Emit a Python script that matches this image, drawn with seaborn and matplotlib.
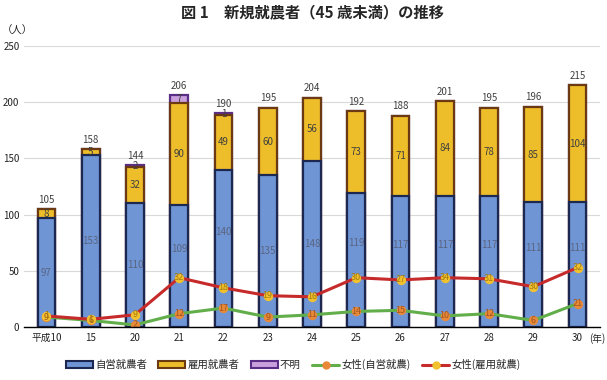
"""図1 新規就農者（45歳未満）の推移: stacked bars with female lines."""

import matplotlib
matplotlib.use("Agg")
import matplotlib.pyplot as plt
import numpy as np
import seaborn as sns
from matplotlib.lines import Line2D
from matplotlib.patches import Patch

years = ["平成10", "15", "20", "21", "22", "23", "24", "25", "26", "27", "28", "29", "30"]
self_employed = [97, 153, 110, 109, 140, 135, 148, 119, 117, 117, 117, 111, 111]
employed = [8, 5, 32, 90, 49, 60, 56, 73, 71, 84, 78, 85, 104]
unknown = [0, 0, 2, 7, 1, 0, 0, 0, 0, 0, 0, 0, 0]
female_self = [9, 6, 2, 12, 17, 9, 11, 14, 15, 10, 12, 6, 21]
female_employed = [1, 1, 9, 32, 18, 19, 16, 30, 27, 34, 31, 30, 32]

BLUE, BLUE_EDGE = "#6F95D5", "#1C2850"
YELLOW, YELLOW_EDGE = "#EDBE2A", "#6B3A12"
PURPLE, PURPLE_EDGE = "#C9A0DC", "#5A2D86"
GREEN, ORANGE = "#62AE4A", "#E8893A"
RED, GOLD = "#C62A2A", "#F2C12E"

sns.set_style("white")
plt.rcParams["font.family"] = ["Noto Sans CJK JP", "DejaVu Sans"]

fig = plt.figure(figsize=(6.07, 3.8), dpi=100)
ax = fig.add_axes([0.040, 0.139, 0.948, 0.740])

s = np.array(self_employed)
e = np.array(employed)
u = np.array(unknown)
top_emp = s + e
total = s + e + u

# draw back to front so each layer shows as a stacked segment
sns.barplot(x=years, y=total, order=years, color=PURPLE, edgecolor=PURPLE_EDGE,
            linewidth=1.6, width=0.4, saturation=1, ax=ax)
sns.barplot(x=years, y=top_emp, order=years, color=YELLOW, edgecolor=YELLOW_EDGE,
            linewidth=1.6, width=0.4, saturation=1, ax=ax)
sns.barplot(x=years, y=s, order=years, color=BLUE, edgecolor=BLUE_EDGE,
            linewidth=1.6, width=0.4, saturation=1, ax=ax)

pos = np.arange(len(years))
red_line = np.array(female_self) + np.array(female_employed)
sns.lineplot(x=pos, y=female_self, color=GREEN, lw=2.2, marker="o", ms=6,
             markerfacecolor=ORANGE, markeredgecolor=ORANGE, ax=ax)
sns.lineplot(x=pos, y=red_line, color=RED, lw=2.2, marker="o", ms=6,
             markerfacecolor=GOLD, markeredgecolor=GOLD, ax=ax)

for i in range(len(years)):
    # lift the blue label where the red line runs through the middle of the bar
    blue_y = s[i] / 2 + (15 if red_line[i] > 30 else 0)
    ax.text(i, blue_y, str(s[i]), ha="center", va="center", fontsize=7, color="#5A6480")
    ax.text(i, s[i] + e[i] / 2, str(e[i]), ha="center", va="center", fontsize=7, color="#404040")
    if u[i]:
        ax.text(i, top_emp[i] + u[i] / 2, str(u[i]), ha="center", va="center",
                fontsize=7, color="#404040")
    ax.text(i, total[i] + 4, str(total[i]), ha="center", va="bottom", fontsize=7, color="#404040")
    ax.text(i, female_self[i], str(female_self[i]), ha="center", va="center",
            fontsize=6.5, color="#A0561E")
    ax.text(i, red_line[i], str(female_employed[i]), ha="center", va="center",
            fontsize=6.5, color="#A57A10")

ax.set_ylim(0, 250)
ax.set_xlim(-0.5, len(years) - 0.5)
ax.set_yticks(range(0, 251, 50))
ax.yaxis.grid(True, color="#D9D9D9", lw=0.8)
ax.set_axisbelow(True)
for side in ["top", "right", "left"]:
    ax.spines[side].set_visible(False)
ax.spines["bottom"].set_color("black")
ax.spines["bottom"].set_linewidth(1.0)
ax.tick_params(axis="both", length=0, labelsize=7, colors="#222222")
ax.tick_params(axis="y", pad=3.5)
ax.tick_params(axis="x", pad=4)
ax.set_xlabel("")
ax.set_ylabel("")

fig.text(0.003, 0.918, "（人）", fontsize=7.5, ha="left", va="center")
fig.text(0.970, 0.110, "(年)", fontsize=7, ha="left", va="center")
fig.text(0.515, 0.968, "図 1　新規就農者（45 歳未満）の推移", fontsize=11,
         fontweight="bold", ha="center", va="center")

handles = [
    Patch(facecolor=BLUE, edgecolor=BLUE_EDGE, lw=1.5, label="自営就農者"),
    Patch(facecolor=YELLOW, edgecolor=YELLOW_EDGE, lw=1.5, label="雇用就農者"),
    Patch(facecolor=PURPLE, edgecolor=PURPLE_EDGE, lw=1.5, label="不明"),
    Line2D([], [], color=GREEN, lw=2.2, marker="o", ms=5,
           markerfacecolor=ORANGE, markeredgecolor=ORANGE, label="女性(自営就農)"),
    Line2D([], [], color=RED, lw=2.2, marker="o", ms=5,
           markerfacecolor=GOLD, markeredgecolor=GOLD, label="女性(雇用就農)"),
]
fig.legend(handles=handles, loc="center", bbox_to_anchor=(0.483, 0.04), ncol=5,
           frameon=False, fontsize=7.5, handlelength=2.6, handleheight=0.6,
           columnspacing=1.1, handletextpad=0.2)

fig.savefig("out.png", dpi=100)
